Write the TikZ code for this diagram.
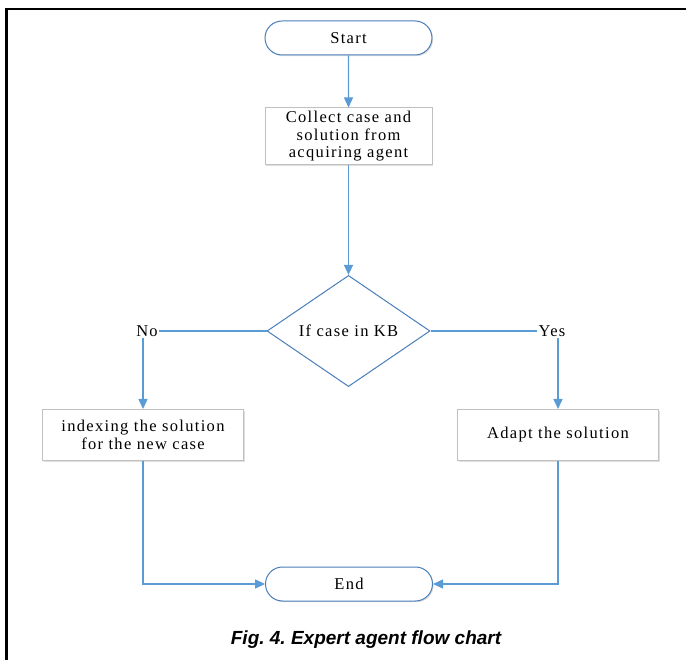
\documentclass[tikz,border=0pt]{standalone}
\usepackage{fontspec}
\setmainfont[LetterSpace=8]{Liberation Serif}
\newfontfamily\capfont{Liberation Sans}
\usetikzlibrary{shapes.misc,shapes.geometric,arrows.meta,shadows}
\definecolor{termblue}{HTML}{4A7EBB}
\definecolor{linkblue}{HTML}{5B9BD5}
\definecolor{boxgray}{HTML}{C0C0C0}
\tikzset{
  x=1pt,y=-1pt,
  txt/.style={font=\fontsize{16.5}{17.5}\selectfont},
  sh/.style={drop shadow={shadow xshift=1.2pt,shadow yshift=-1.2pt,opacity=0.25,fill=gray}},
  term/.style={rounded rectangle,draw=termblue,line width=1pt,fill=white,sh,
    minimum width=167pt,minimum height=34pt,inner sep=0pt,txt},
  procbox/.style={rectangle,draw=boxgray,line width=1pt,fill=white,sh,
    inner sep=0pt,align=center,txt},
  decide/.style={diamond,draw=termblue,line width=1pt,fill=white,
    minimum width=163pt,minimum height=110pt,inner sep=0pt,txt},
  lbl/.style={inner sep=1pt,txt},
  conn/.style={draw=linkblue,line width=1.4pt},
  arr/.style={conn,-{Triangle[length=10pt,width=9pt]}},
}
\begin{document}
\frenchspacing
\begin{tikzpicture}
\useasboundingbox (0,0) rectangle (686,660);
% frame
\draw[line width=2.6pt] (6.5,660) -- (6.5,9) -- (686,9);
% nodes
\node[term] (start) at (348.5,38) {Start};
\node[procbox,minimum width=167pt,minimum height=57pt] (collect) at (348.5,136.5)
  {Collect case and\\solution from\\acquiring agent};
\node[decide] (dia) at (348.5,331) {If case in KB};
\node[lbl] (no) at (147,331) {No};
\node[lbl] (yes) at (552,331) {Yes};
\node[procbox,minimum width=201pt,minimum height=51pt] (lbox) at (143,435)
  {indexing the solution\\for the new case};
\node[procbox,minimum width=201pt,minimum height=51pt] (rbox) at (558,435)
  {Adapt the solution};
\node[term] (end) at (349,584) {End};
\coordinate (lc) at (lbox.south |- end.west);
\coordinate (rc) at (rbox.south |- end.east);
% connectors
\draw[arr] (start) -- (collect);
\draw[arr] (collect) -- (dia);
\draw[conn] (dia.west) -- (no.east);
\draw[conn] (dia.east) -- (yes.west);
\draw[arr] (lbox.north |- no.south) -- (lbox.north);
\draw[arr] (rbox.north |- yes.south) -- (rbox.north);
\draw[arr] (lbox.south) -- (lc) -- (end.west);
\draw[arr] (rbox.south) -- (rc) -- (end.east);
% caption
\node[inner sep=0pt,font=\capfont\bfseries\itshape\fontsize{19}{22}\selectfont] (cap) at (366,640)
  {Fig. 4. Expert agent flow chart};
\end{tikzpicture}
\end{document}
